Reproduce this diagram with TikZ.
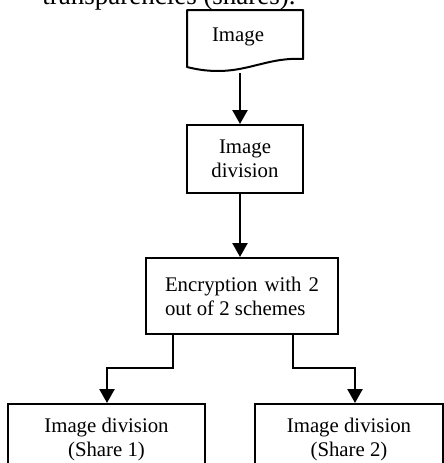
\documentclass[tikz,border=0pt]{standalone}
\usepackage{fontspec}
\setmainfont{Liberation Serif}
\usetikzlibrary{arrows.meta}
\newcommand\boxfont{\fontsize{20.8}{24}\selectfont}
\tikzset{
  box/.style={draw, line width=2pt, inner sep=0pt, align=center, font=\boxfont},
  docline/.style={draw, line width=2pt, line join=round},
  flow/.style={line width=2.5pt, -{Triangle[width=15pt,length=14pt]}},
}
\begin{document}
\begin{tikzpicture}[x=1pt,y=-1pt]
\useasboundingbox (0,0) rectangle (444,463);

% caption line running above the chart
\node[anchor=base, font=\fontsize{27}{32}\selectfont] (cap) at (169,5) {transparencies (shares).};

% document-shaped input
\path[docline] (187,67) -- (187,10) -- (303,10) -- (303,59)
  .. controls (270,57) and (250,71) .. (218,71)
  .. controls (205,71) and (195,69) .. (187,67) -- cycle;
\node[font=\boxfont] (img) at (238,37) {Image};
\coordinate (imgout) at (240,73);

% processing steps
\node[box, minimum width=116pt, minimum height=68pt] (div) at (245,159) {Image\\division};
\node[box, minimum width=192pt, minimum height=76pt, text width=154pt, align=justify] (enc) at (242,296) {Encryption with 2 out of 2 schemes};

% the two shares
\node[box, minimum width=197pt, minimum height=70pt] (sh1) at (106.5,439) {Image division\\(Share 1)};
\node[box, minimum width=188pt, minimum height=70pt] (sh2) at (349,439) {Image division\\(Share 2)};

% connectors
\draw[flow] (imgout) -- (div.north -| imgout);
\draw[flow] (div.south -| imgout) -- (enc.north -| imgout);
\draw[flow] (enc.south -| 173,0) -- ++(0,33) -| (sh1.north -| 107,0);
\draw[flow] (enc.south -| 293,0) -- ++(0,33) -| (sh2.north -| 355,0);
\end{tikzpicture}
\end{document}
